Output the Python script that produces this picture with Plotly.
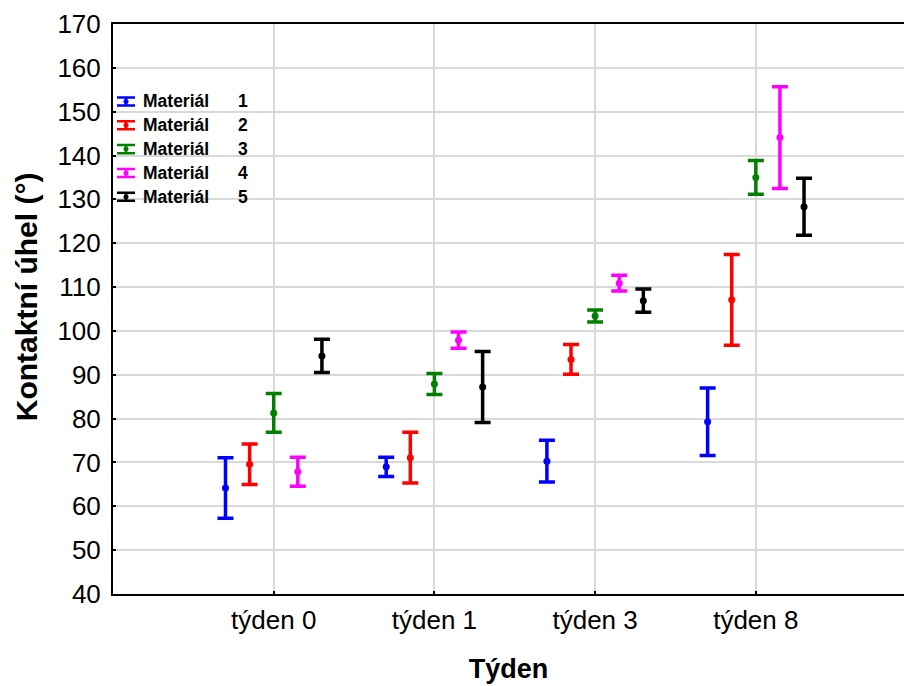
import plotly.graph_objects as go

# Weeks of measurement (x categories)
weeks = ["týden 0", "týden 1", "týden 3", "týden 8"]

# Materials and their colours
materials = ["1", "2", "3", "4", "5"]
colors = ["#0000FF", "#FF0000", "#008000", "#FF00FF", "#000000"]

# Mean contact angle (°) per material, one value per week
mean_m1 = [64.2, 69.0, 70.3, 79.3]
mean_m2 = [69.6, 71.1, 93.5, 107.1]
mean_m3 = [81.3, 87.9, 103.4, 135.0]
mean_m4 = [67.9, 97.9, 110.9, 144.1]
mean_m5 = [94.3, 87.2, 106.9, 128.3]

# Half-width of the confidence interval (°)
ci_m1 = [6.9, 2.2, 4.75, 7.7]
ci_m2 = [4.6, 5.8, 3.4, 10.35]
ci_m3 = [4.4, 2.4, 1.35, 3.85]
ci_m4 = [3.3, 1.85, 1.8, 11.6]
ci_m5 = [3.8, 8.1, 2.65, 6.5]

means = [mean_m1, mean_m2, mean_m3, mean_m4, mean_m5]
cis = [ci_m1, ci_m2, ci_m3, ci_m4, ci_m5]

y_ticks = list(range(40, 171, 10))

FONT = "Arial, Liberation Sans, sans-serif"

fig = go.Figure()

# Mean ± CI markers, grouped side by side within each week
for m, col, mu, ci in zip(materials, colors, means, cis):
    fig.add_trace(go.Scatter(
        x=weeks, y=mu, mode="markers",
        offsetgroup=m,
        marker=dict(color=col, size=7),
        error_y=dict(type="data", array=ci, visible=True,
                     color=col, thickness=3.5, width=8),
        showlegend=False, hoverinfo="skip",
    ))

# Key: small error-bar glyphs on an inset axis (one row per material),
# labelled with annotations
for m, col in zip(materials, colors):
    row = int(m)
    fig.add_trace(go.Scatter(
        x=[0], y=[row], mode="markers", xaxis="x2", yaxis="y2",
        offsetgroup="key",
        marker=dict(color=col, size=5),
        error_y=dict(type="constant", value=0.17, visible=True,
                     color=col, thickness=2.5, width=9),
        showlegend=False, hoverinfo="skip",
    ))
    fig.add_annotation(x=15, y=row, xref="x2", yref="y2", text="Materiál",
                       showarrow=False, xanchor="left", yanchor="middle",
                       font=dict(family=FONT, size=17.5, color="black", weight="bold"))
    fig.add_annotation(x=110, y=row, xref="x2", yref="y2", text=m,
                       showarrow=False, xanchor="left", yanchor="middle",
                       font=dict(family=FONT, size=17.5, color="black", weight="bold"))

# Y-axis title
fig.add_annotation(x=-0.109, y=0.522, xref="paper", yref="paper",
                   text="Kontaktní úhel (°)", textangle=-90, showarrow=False,
                   xanchor="center", yanchor="middle",
                   font=dict(family=FONT, size=30, color="black", weight="bold"))

fig.update_layout(
    width=904, height=686,
    margin=dict(l=113, r=0, t=24, b=92),
    paper_bgcolor="white", plot_bgcolor="rgba(0,0,0,0)",
    scattermode="group", scattergap=0.25,
    hovermode=False,
    font=dict(family=FONT, color="black"),
    xaxis=dict(
        type="category", categoryorder="array", categoryarray=weeks,
        range=[-1, 3.922],
        showgrid=True, gridcolor="#d9d9d9", gridwidth=2,
        showline=True, linecolor="black", linewidth=2, mirror=True,
        ticks="inside", ticklen=3, tickwidth=2, tickcolor="black",
        tickfont=dict(size=26, family=FONT),
        ticklabelstandoff=2,
        title=dict(text="Týden", font=dict(size=27, family=FONT, weight="bold"),
                   standoff=25),
        zeroline=False,
    ),
    yaxis=dict(
        range=[40, 170], tickvals=y_ticks,
        showgrid=True, gridcolor="#d9d9d9", gridwidth=2,
        showline=True, linecolor="black", linewidth=2,
        ticks="inside", ticklen=3, tickwidth=2, tickcolor="black",
        tickfont=dict(size=26, family=FONT),
        ticklabelstandoff=5,
        zeroline=False,
    ),
    xaxis2=dict(domain=[0, 0.3], range=[-13, 224.3], anchor="y2",
                visible=False, fixedrange=True),
    yaxis2=dict(domain=[0.676, 0.885], anchor="x2",
                range=[5.5, 0.5], visible=False, fixedrange=True),
)

fig.write_html("out.html")
